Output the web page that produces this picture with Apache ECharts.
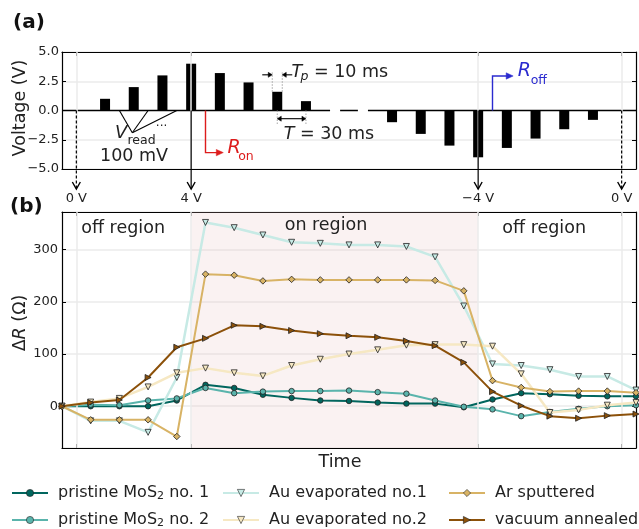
<!DOCTYPE html>
<html><head><meta charset="utf-8">
<script src="https://cdn.jsdelivr.net/npm/echarts@6/dist/echarts.min.js"></script>
<style>html,body{margin:0;padding:0;background:#fff}#c{width:639px;height:529px}</style>
</head><body><div id="c"></div>
<script>
// ---------- data ----------
const timeSteps = [0,1,2,3,4,5,6,7,8,9,10,11,12,13,14,15,16,17,18,19,20];
const pristine1 = [0,0,0,0,11,41,35,22,16,11,10,7,5,5,-2,13,25,23,20,19,19];
const pristine2 = [0,3,2,11,15,35,25,28,29,29,30,27,24,11,-1,-6,-19,-11,-5,0,2];
const auEvap1   = [0,-28,-28,-50,55,352,342,328,314,312,309,309,306,286,192,81,78,70,57,57,31];
const auEvap2   = [0,8,15,37,64,73,64,58,78,90,100,108,117,118,118,115,62,-12,-7,2,7];
const arSput    = [0,-26,-26,-26,-58,253,251,240,243,242,242,242,242,241,221,49,36,28,29,29,26];
const vacAnn    = [0,7,12,55,113,130,155,153,145,139,135,132,125,116,84,28,1,-19,-23,-18,-15];

const pulseX = [1.5,2.5,3.5,4.5,5.5,6.5,7.5,8.5,11.5,12.5,13.5,14.5,15.5,16.5,17.5,18.5];
const pulseV = [1,2,3,4,3.2,2.4,1.6,0.8,-1,-2,-3,-4,-3.2,-2.4,-1.6,-0.8];
const readX  = [2,3,4];
const markX  = [0.5,4.5,14.5,19.5];
const markLabels = ['0 V','4 V','\u22124 V','0 V'];
const markDashed = [true,false,false,true];
const baseX = [0,9.34,null,9.69,10.31,null,10.66,20];
const onRegion = [4.5,14.5];

const FONT = 'DejaVu Sans';
const names = ['pristine MoS2 no. 1','pristine MoS2 no. 2','Au evaporated no.1','Au evaporated no.2','Ar sputtered','vacuum annealed'];
const colors = ['#01665e','#5ab4ac','#c7eae5','#f6e8c3','#d8b365','#8c510a'];
const values = [pristine1,pristine2,auEvap1,auEvap2,arSput,vacAnn];
const symbols = ['circle','circle','triangle','triangle','diamond','triangle'];
const symRot = [0,0,180,180,0,-90];
const symSize = [5.5,5.5,6,6,6.5,6];
const lineW = [2,2,2.5,2.5,2,2];

const chart = echarts.init(document.getElementById('c'), null, {renderer:'canvas'});
const AL = {show:true, onZero:false, lineStyle:{color:'#000', width:1.2}};
const minus = s => String(s).replace('-', '\u2212');

const dataSeries = names.map((n,k)=>({
  name:n, type:'line', xAxisIndex:1, yAxisIndex:2, z:3+k,
  data: timeSteps.map((t,i)=>[t, values[k][i]]),
  symbol:symbols[k], symbolRotate:symRot[k], symbolSize:symSize[k], showAllSymbol:true,
  lineStyle:{color:colors[k], width:lineW[k]},
  itemStyle:{color:colors[k], borderColor:'#222', borderWidth:0.8},
  emphasis:{disabled:true}
}));

const legendBase = {orient:'vertical', top:484, itemWidth:36, itemHeight:9, itemGap:9, padding:0, selectedMode:false,
  itemStyle:{borderWidth:0.6},
  formatter: n => n.replace('MoS2','MoS{sub|2}'),
  textStyle:{fontFamily:FONT, fontSize:16, color:'#222', lineHeight:18, padding:[0,0,0,5],
    rich:{sub:{fontFamily:FONT, fontSize:11, color:'#222', padding:[7,0,0,0]}}}};

const option = {
  animation:false,
  textStyle:{fontFamily:FONT},
  grid:[{left:62, top:52, width:574, height:117},{left:62, top:212, width:574, height:236}],
  xAxis:[
    {gridIndex:0, type:'value', min:0, max:20, axisLine:AL, axisTick:{show:false}, axisLabel:{show:false}, splitLine:{show:false}},
    {gridIndex:1, type:'value', min:0, max:20, axisLine:AL,
      axisTick:{show:true, inside:true, length:4, customValues:markX, lineStyle:{color:'#000'}}, axisLabel:{show:false}, splitLine:{show:false}},
    {gridIndex:1, type:'value', position:'top', min:0, max:20, axisLine:AL,
      axisTick:{show:true, inside:true, length:4, customValues:markX, lineStyle:{color:'#000'}},
      axisLabel:{show:true, customValues:markX, formatter:v=>markLabels[markX.indexOf(v)] || '', fontSize:13, color:'#222', margin:7, fontFamily:FONT},
      splitLine:{show:false}},
    {gridIndex:0, type:'value', position:'top', min:0, max:20, axisLine:AL,
      axisTick:{show:true, inside:true, length:4, customValues:markX, lineStyle:{color:'#000'}}, axisLabel:{show:false}, splitLine:{show:false}}
  ],
  yAxis:[
    {gridIndex:0, type:'value', min:-5, max:5, interval:2.5, axisLine:AL,
      axisTick:{show:true, inside:true, length:4, lineStyle:{color:'#000'}},
      axisLabel:{formatter:v=>minus(v.toFixed(1)), fontSize:13, color:'#222', margin:3, fontFamily:FONT},
      splitLine:{show:true, lineStyle:{color:['#ebebeb','#ebebeb','#ffffff','#ebebeb','#ebebeb'], width:1.5}}},
    {gridIndex:0, type:'value', position:'right', min:-5, max:5, interval:2.5, axisLine:AL,
      axisTick:{show:true, inside:true, length:4, lineStyle:{color:'#000'}}, axisLabel:{show:false}, splitLine:{show:false}},
    {gridIndex:1, type:'value', min:-80, max:372, axisLine:AL,
      axisTick:{show:true, inside:true, length:4, lineStyle:{color:'#000'}},
      axisLabel:{showMinLabel:false, showMaxLabel:false, fontSize:13, color:'#222', margin:4, fontFamily:FONT, formatter:v=>minus(v)},
      splitLine:{show:true, lineStyle:{color:'#ebebeb', width:1.5}}},
    {gridIndex:1, type:'value', position:'right', min:-80, max:372, axisLine:AL,
      axisTick:{show:true, inside:true, length:4, lineStyle:{color:'#000'}}, axisLabel:{show:false}, splitLine:{show:false}}
  ],
  legend:[
    Object.assign({}, legendBase, {left:11, data:[names[0],names[1]]}),
    Object.assign({}, legendBase, {left:222, data:[names[2],names[3]]}),
    Object.assign({}, legendBase, {left:448, data:[names[4],names[5]]})
  ],
  series:[
    {type:'line', xAxisIndex:0, yAxisIndex:0, z:1, data:[], silent:true,
      markLine:{silent:true, symbol:['none','none'], label:{show:false}, lineStyle:{color:'#ebebeb', width:1.5, type:'solid'},
        data: markX.map(x=>({xAxis:x}))}},
    {type:'bar', xAxisIndex:0, yAxisIndex:0, z:3, barWidth:10, itemStyle:{color:'#000'},
      data: pulseX.map((x,i)=>[x, pulseV[i]])},
    {type:'line', xAxisIndex:0, yAxisIndex:0, z:3, symbol:'none', lineStyle:{color:'#000', width:1.5},
      data: baseX.map(x=> x===null ? [9.5,'-'] : [x,0])},
    {type:'line', xAxisIndex:1, yAxisIndex:2, z:1, data:[], silent:true,
      markArea:{silent:true, itemStyle:{color:'rgba(230,190,190,0.2)'}, data:[[{xAxis:onRegion[0]},{xAxis:onRegion[1]}]]},
      markLine:{silent:true, symbol:['none','none'], label:{show:false}, lineStyle:{color:'#ebebeb', width:1.5, type:'solid'},
        data: markX.map(x=>({xAxis:x}))}}
  ].concat(dataSeries)
};
chart.setOption(option);

// ---------- annotations ----------
const p0 = (x,y)=>chart.convertToPixel({xAxisIndex:0, yAxisIndex:0},[x,y]);
const p1 = (x,y)=>chart.convertToPixel({xAxisIndex:1, yAxisIndex:2},[x,y]);
const G = [];
const txt = (x,y,text,opt)=>G.push({type:'text', x, y, z:200, silent:true,
  style:Object.assign({text, fill:'#222', fontFamily:FONT, fontSize:17.5, align:'center', verticalAlign:'middle',
    textAlign:'center', textVerticalAlign:'middle'}, opt||{})});
const line = (pts,stroke,w,dash)=>G.push({type:'polyline', z:150, silent:true, shape:{points:pts},
  style:{stroke, lineWidth:w, fill:null, lineDash:dash||null}});
const head = (tip,dir,color,len,half)=>{
  const [x,y]=tip; let pts;
  if(dir==='r') pts=[[x,y],[x-len,y-half],[x-len,y+half]];
  if(dir==='l') pts=[[x,y],[x+len,y-half],[x+len,y+half]];
  G.push({type:'polygon', z:151, silent:true, shape:{points:pts}, style:{fill:color, stroke:color, lineWidth:0.5}});
};

// arrows from (a) down to (b)
const topB = chart.convertToPixel({yAxisIndex:2}, 372);
markX.forEach((x,k)=>{
  const [xp, y0] = p0(x, 0);
  const yEnd = topB - 23;
  line([[xp,y0],[xp,yEnd]], '#000', 1.2, markDashed[k]?[3,2]:null);
  line([[xp-4,yEnd-7],[xp,yEnd],[xp+4,yEnd-7]], '#000', 1.4);
});

// V_read
const apex = p0(2.45,-1.9);
readX.forEach(rx=>line([apex, p0(rx,0)], '#000', 1.1));
{ const a=p0(1.85,-1.97); txt(a[0],a[1],'V',{fontStyle:'italic', fontSize:18, align:'left', textAlign:'left'}); }
{ const a=p0(2.28,-2.6); txt(a[0],a[1],'read',{fontSize:12.5, align:'left', textAlign:'left'}); }
{ const a=p0(3.47,-1.05); txt(a[0],a[1],'...',{fontSize:12}); }
{ const a=p0(2.51,-3.89); txt(a[0],a[1],'100 mV'); }

// R_on
{ const a=p0(5,0), b=p0(5,-3.6), c=p0(5.62,-3.6);
  line([a,b,[c[0]-6,c[1]]], '#dd1c1c', 1.4); head(c,'r','#dd1c1c',7,3.2);
  const t=p0(5.77,-3.25); txt(t[0],t[1],'R',{fontStyle:'italic', fontSize:19, fill:'#dd1c1c', align:'left', textAlign:'left'});
  const s=p0(6.14,-3.97); txt(s[0],s[1],'on',{fontSize:12.5, fill:'#dd1c1c', align:'left', textAlign:'left'}); }
// R_off
{ const a=p0(15,0), b=p0(15,2.95), c=p0(15.72,2.95);
  line([a,b,[c[0]-6,c[1]]], '#2b2bcf', 1.4); head(c,'r','#2b2bcf',7,3.2);
  const t=p0(15.88,3.33); txt(t[0],t[1],'R',{fontStyle:'italic', fontSize:19, fill:'#2b2bcf', align:'left', textAlign:'left'});
  const s=p0(16.33,2.52); txt(s[0],s[1],'off',{fontSize:12.5, fill:'#2b2bcf', align:'left', textAlign:'left'}); }

// T_p
{ const bt=p0(7.5,1.6), up=p0(7.5,3.25); const l=bt[0]-5, r=bt[0]+5;
  line([[l,bt[1]],[l,up[1]]], '#999', 0.9, [1.5,1.5]); line([[r,bt[1]],[r,up[1]]], '#999', 0.9, [1.5,1.5]);
  const ya = p0(7.5,3.05)[1];
  line([[l-10,ya],[l-3,ya]], '#000', 1.1); head([l,ya],'r','#000',4,2.5);
  line([[r+10,ya],[r+3,ya]], '#000', 1.1); head([r,ya],'l','#000',4,2.5);
  const t=p0(8.0,3.23); txt(t[0],t[1],'T',{fontStyle:'italic', align:'left', textAlign:'left'});
  const s=p0(8.31,2.9); txt(s[0],s[1],'p',{fontStyle:'italic', fontSize:12.5, align:'left', textAlign:'left'});
  const n=p0(8.78,3.23); txt(n[0],n[1],'= 10 ms',{align:'left', textAlign:'left'}); }
// T
{ const a=p0(7.5,0), b=p0(8.5,0), lo=p0(7.5,-1.15); const ya=p0(7.5,-0.7)[1];
  line([[a[0],a[1]],[a[0],lo[1]]], '#999', 0.9, [1.5,1.5]); line([[b[0],b[1]],[b[0],lo[1]]], '#999', 0.9, [1.5,1.5]);
  line([[a[0]+3,ya],[b[0]-3,ya]], '#000', 1.1); head([a[0],ya],'l','#000',4,2.5); head([b[0],ya],'r','#000',4,2.5);
  const t=p0(9.3,-2.09);
  G.push({type:'text', x:t[0], y:t[1], z:200, silent:true, style:{text:'{i|T}{n| = 30 ms}', align:'center', verticalAlign:'middle',
    textAlign:'center', textVerticalAlign:'middle',
    rich:{i:{fontFamily:FONT, fontSize:17.5, fontStyle:'italic', fill:'#222', color:'#222'}, n:{fontFamily:FONT, fontSize:17.5, fill:'#222', color:'#222'}}}}); }

// region labels
{ const a=p1(2.13,341); txt(a[0],a[1],'off region'); }
{ const a=p1(9.2,347); txt(a[0],a[1],'on region'); }
{ const a=p1(16.8,341); txt(a[0],a[1],'off region'); }

// axis names, panel letters
txt(20,108,'Voltage (V)',{});
G[G.length-1].rotation = Math.PI/2;
G.push({type:'text', x:20, y:323, rotation:Math.PI/2, z:200, silent:true, style:{text:'{n|\u0394}{i|R}{n| (\u03a9)}', align:'center', verticalAlign:'middle',
  textAlign:'center', textVerticalAlign:'middle',
  rich:{i:{fontFamily:FONT, fontSize:17.5, fontStyle:'italic', fill:'#222', color:'#222'}, n:{fontFamily:FONT, fontSize:17.5, fill:'#222', color:'#222'}}}});
txt(340,462,'Time',{});
txt(13,23,'(a)',{fontWeight:'bold', fontSize:20, fill:'#111', align:'left', textAlign:'left'});
txt(10,207,'(b)',{fontWeight:'bold', fontSize:20, fill:'#111', align:'left', textAlign:'left'});

chart.setOption({graphic:{elements:G}});
</script>
</body></html>
